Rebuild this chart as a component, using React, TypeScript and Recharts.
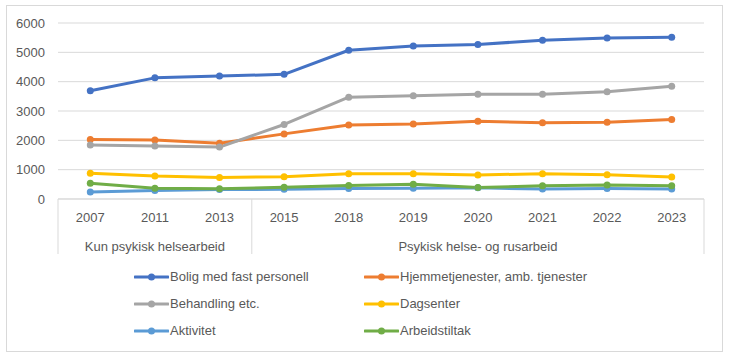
import React from 'react'
import { LineChart, Line, XAxis, YAxis, CartesianGrid, Legend } from 'recharts'

// Årstall og gruppering på kategoriaksen
const years = ['2007', '2011', '2013', '2015', '2018', '2019', '2020', '2021', '2022', '2023']
const groupLabels: Record<string, string> = {
  '2011': 'Kun psykisk helsearbeid',
  '2020': 'Psykisk helse- og rusarbeid',
}
// første kategori i hver gruppe (skillelinje til venstre for den)
const groupStarts = ['2007', '2015']
const yTicks = [0, 1000, 2000, 3000, 4000, 5000, 6000]

// Serier
const bolig = [3690, 4130, 4190, 4250, 5070, 5220, 5270, 5410, 5490, 5510]
const hjemme = [2030, 2010, 1900, 2220, 2520, 2560, 2650, 2600, 2620, 2710]
const behandling = [1840, 1810, 1770, 2540, 3470, 3520, 3570, 3570, 3660, 3840]
const dagsenter = [880, 780, 730, 760, 860, 860, 820, 860, 830, 750]
const aktivitet = [240, 290, 320, 330, 360, 370, 380, 340, 360, 340]
const arbeid = [540, 370, 350, 400, 460, 500, 390, 450, 480, 450]

const series = [
  { key: 'bolig', name: 'Bolig med fast personell', color: '#4472C4', values: bolig },
  { key: 'hjemme', name: 'Hjemmetjenester, amb. tjenester', color: '#ED7D31', values: hjemme },
  { key: 'behandling', name: 'Behandling etc.', color: '#A5A5A5', values: behandling },
  { key: 'dagsenter', name: 'Dagsenter', color: '#FFC000', values: dagsenter },
  { key: 'aktivitet', name: 'Aktivitet', color: '#5B9BD5', values: aktivitet },
  { key: 'arbeid', name: 'Arbeidstiltak', color: '#70AD47', values: arbeid },
]

const data = years.map((year, i) => {
  const row: Record<string, string | number> = { year }
  series.forEach(s => { row[s.key] = s.values[i] })
  return row
})

const W = 731
const H = 356
const Y_AXIS_W = 58
const MARGIN = { top: 23, right: 27, left: 0, bottom: 101 }
const BAND = (W - Y_AXIS_W - MARGIN.right) / years.length
const TEXT = '#595959'
const LINE = '#d9d9d9'
const FONT = '"Liberation Sans", Arial, sans-serif'

const CategoryTick = (props: any) => {
  const { x, y, payload } = props
  const v = payload.value
  const label = groupLabels[v]
  return (
    <g>
      <text x={x} y={y + 18} dy="0.35em" textAnchor="middle" fill={TEXT} fontSize={13} fontFamily={FONT}>
        {v}
      </text>
      {label && (
        <text x={x} y={y + 47} dy="0.35em" textAnchor="middle" fill={TEXT} fontSize={13} fontFamily={FONT}>
          {label}
        </text>
      )}
      {groupStarts.includes(v) && (
        <line x1={x - BAND / 2} x2={x - BAND / 2} y1={y} y2={y + 55} stroke={LINE} />
      )}
      {v === years[years.length - 1] && (
        <line x1={x + BAND / 2} x2={x + BAND / 2} y1={y} y2={y + 55} stroke={LINE} />
      )}
    </g>
  )
}

const LegendContent = (props: any) => {
  const payload = [...(props.payload || [])].sort(
    (a: any, b: any) =>
      series.findIndex(s => s.name === a.value) - series.findIndex(s => s.name === b.value)
  )
  return (
    <div style={{ display: 'grid', gridTemplateColumns: '230px 260px', rowGap: 0 }}>
      {payload.map((p: any) => (
        <div key={p.value} style={{ display: 'flex', alignItems: 'center', height: 27 }}>
          <svg width={35} height={10} style={{ display: 'block' }}>
            <line x1={1} x2={34} y1={5} y2={5} stroke={p.color} strokeWidth={3} strokeLinecap="round" />
            <circle cx={17.5} cy={5} r={3.5} fill={p.color} />
          </svg>
          <span style={{ color: TEXT, fontSize: 13, fontFamily: FONT, marginLeft: 1 }}>{p.value}</span>
        </div>
      ))}
    </div>
  )
}

export default function App() {
  return (
    <div style={{ position: 'relative', width: W, height: H, background: '#fff' }}>
      <style>{'body{margin:0}'}</style>
      <LineChart width={W} height={H} data={data} margin={MARGIN}>
        <CartesianGrid vertical={false} stroke={LINE} />
        <XAxis
          dataKey="year"
          height={56}
          padding={{ left: BAND / 2, right: BAND / 2 }}
          axisLine={{ stroke: LINE }}
          tickLine={false}
          tickSize={0}
          tickMargin={0}
          interval={0}
          tick={<CategoryTick />}
        />
        <YAxis
          width={Y_AXIS_W}
          domain={[0, 6000]}
          ticks={yTicks}
          axisLine={false}
          tickLine={false}
          tickMargin={7}
          tick={{ fill: TEXT, fontSize: 13, fontFamily: FONT }}
        />
        {series.map(s => (
          <Line
            key={s.key}
            dataKey={s.key}
            name={s.name}
            stroke={s.color}
            strokeWidth={3}
            strokeLinejoin="round"
            strokeLinecap="round"
            dot={{ r: 3.5, fill: s.color, stroke: 'none' }}
            activeDot={false}
            isAnimationActive={false}
          />
        ))}
        <Legend
          layout="vertical"
          align="center"
          verticalAlign="middle"
          content={<LegendContent />}
          wrapperStyle={{ top: 263, left: 134, width: 500 }}
        />
      </LineChart>
      <div
        style={{
          position: 'absolute',
          left: 6,
          top: 5,
          width: 715,
          height: 345,
          border: `1px solid ${LINE}`,
          pointerEvents: 'none',
        }}
      />
    </div>
  )
}
